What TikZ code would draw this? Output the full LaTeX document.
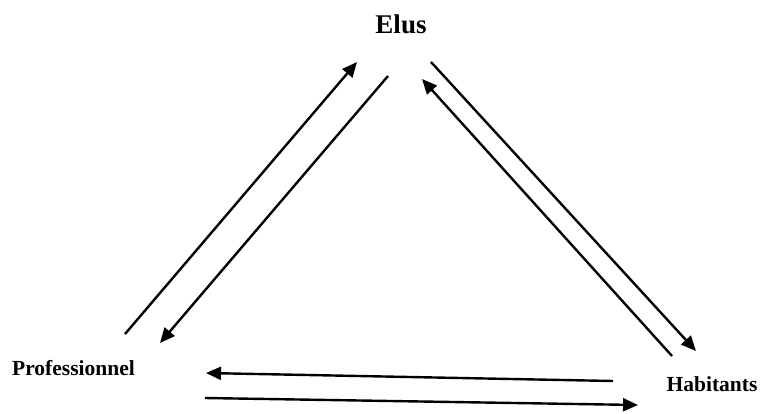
\documentclass[tikz,border=0pt]{standalone}
\usepackage{fontspec}
\setmainfont{Liberation Serif}
\usetikzlibrary{arrows.meta}
\tikzset{
  lbl/.style={font=\bfseries, inner sep=0pt, anchor=base},
  conn/.style={line width=2.4pt, -{Triangle[length=15pt,width=13pt]}},
}
\begin{document}
\begin{tikzpicture}[x=1pt,y=-1pt]
\useasboundingbox (0,0) rectangle (760,413);
\node[lbl, font=\bfseries\fontsize{27}{31}\selectfont] (elus) at (401,33) {Elus};
\node[lbl, font=\bfseries\fontsize{21.5}{25}\selectfont] (pro) at (73.5,375) {Professionnel};
\node[lbl, font=\bfseries\fontsize{21.5}{25}\selectfont] (hab) at (712,391) {Habitants};
% left pair
\coordinate (a1) at (125,334); \coordinate (a2) at (357,62);
\coordinate (b1) at (388,76);  \coordinate (b2) at (160,343);
% right pair
\coordinate (c1) at (431,62);  \coordinate (c2) at (696,351);
\coordinate (d1) at (672,356); \coordinate (d2) at (422,79);
% bottom pair
\coordinate (e1) at (613,381); \coordinate (e2) at (206,373);
\coordinate (f1) at (205,398); \coordinate (f2) at (638,405);
\draw[conn] (a1) -- (a2);
\draw[conn] (b1) -- (b2);
\draw[conn] (c1) -- (c2);
\draw[conn] (d1) -- (d2);
\draw[conn] (e1) -- (e2);
\draw[conn] (f1) -- (f2);
\end{tikzpicture}
\end{document}
